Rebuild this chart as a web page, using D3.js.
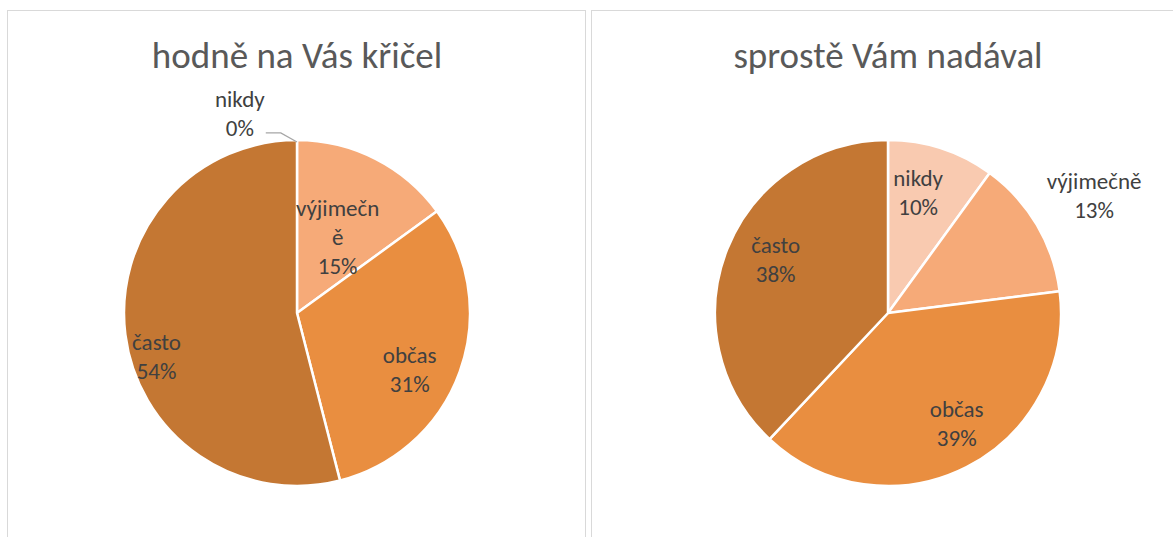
<!DOCTYPE html>
<html>
<head>
<meta charset="utf-8">
<script src="https://cdn.jsdelivr.net/npm/d3@7"></script>
<style>
  html, body { margin: 0; padding: 0; background: #fff; }
  svg { display: block; }
</style>
</head>
<body>
<svg id="chart"></svg>
<script>
// categories in drawing order (clockwise from 12 o'clock)
const categories = ["nikdy", "výjimečně", "občas", "často"];
const colors = ["#F9CAB0", "#F6AA78", "#E98E40", "#C47733"];

const titles = ["hodně na Vás křičel", "sprostě Vám nadával"];
const shoutedValues = [0, 15, 31, 54];
const sworeValues = [10, 13, 39, 38];

// label text lines per chart (left one wraps the long word like Excel did)
const shoutedLabels = [["nikdy"], ["výjimečn", "ě"], ["občas"], ["často"]];
const sworeLabels = [["nikdy"], ["výjimečně"], ["občas"], ["často"]];

// label placement: radius factor and angle nudge (deg) from slice middle
const shoutedLabelPos = [{ r: 1.2, a: -16, leader: true }, { r: 0.5, a: 1 }, { r: 0.73, a: 7 }, { r: 0.85, a: -10 }];
const sworeLabelPos = [{ r: 0.72, a: -4 }, { r: 1.37, a: 1 }, { r: 0.75, a: -5 }, { r: 0.72, a: 4 }];

const width = 1173, height = 537;
const svg = d3.select("#chart").attr("width", width).attr("height", height);
const font = "Calibri, Carlito, Lato, sans-serif";

const panels = [
  { x: 7.5, w: 578, cx: 297, values: shoutedValues, labels: shoutedLabels, pos: shoutedLabelPos, title: titles[0] },
  { x: 591.5, w: 600, cx: 888, values: sworeValues, labels: sworeLabels, pos: sworeLabelPos, title: titles[1] },
];

const cy = 313, radius = 173;
const pie = d3.pie().sort(null).value((d) => d);
const arc = d3.arc().innerRadius(0).outerRadius(radius);
const color = d3.scaleOrdinal().domain(categories).range(colors);

panels.forEach((p) => {
  svg.append("rect")
    .attr("x", p.x).attr("y", 10.5)
    .attr("width", p.w).attr("height", height + 20)
    .attr("fill", "#fff")
    .attr("stroke", "#D9D9D9")
    .attr("stroke-width", 1);

  svg.append("text")
    .attr("x", p.cx).attr("y", 68)
    .attr("text-anchor", "middle")
    .attr("font-family", font)
    .attr("font-size", 37)
    .attr("fill", "#595959")
    .text(p.title);

  const g = svg.append("g").attr("transform", `translate(${p.cx},${cy})`);
  const arcs = pie(p.values);

  g.selectAll("path")
    .data(arcs)
    .join("path")
    .attr("d", arc)
    .attr("fill", (d, i) => color(categories[i]))
    .attr("stroke", "#fff")
    .attr("stroke-width", 2.5)
    .attr("stroke-linejoin", "round");

  const lineH = 29;
  arcs.forEach((d, i) => {
    const pos = p.pos[i];
    const ang = (d.startAngle + d.endAngle) / 2 + (pos.a * Math.PI) / 180;
    const lx = Math.sin(ang) * radius * pos.r;
    const ly = -Math.cos(ang) * radius * pos.r;
    const pct = Math.round((d.value / d3.sum(p.values)) * 100) + "%";
    const lines = [...p.labels[i], pct];
    const t = g.append("text")
      .attr("text-anchor", "middle")
      .attr("font-family", font)
      .attr("font-size", 23)
      .attr("fill", "#404040");
    lines.forEach((s, k) => {
      t.append("tspan")
        .attr("x", lx)
        .attr("y", ly + (k - (lines.length - 1) / 2) * lineH + 8)
        .text(s);
    });
    if (pos.leader) {
      const ex = Math.sin(d.startAngle) * radius;
      const ey = -Math.cos(d.startAngle) * radius;
      const sy = ly + lineH / 2 + 5;
      g.append("path")
        .attr("d", d3.line()([[lx + 26, sy], [lx + 41, sy], [ex, ey + 2]]))
        .attr("fill", "none")
        .attr("stroke", "#A6A6A6")
        .attr("stroke-width", 1.3);
    }
  });
});
</script>
</body>
</html>
